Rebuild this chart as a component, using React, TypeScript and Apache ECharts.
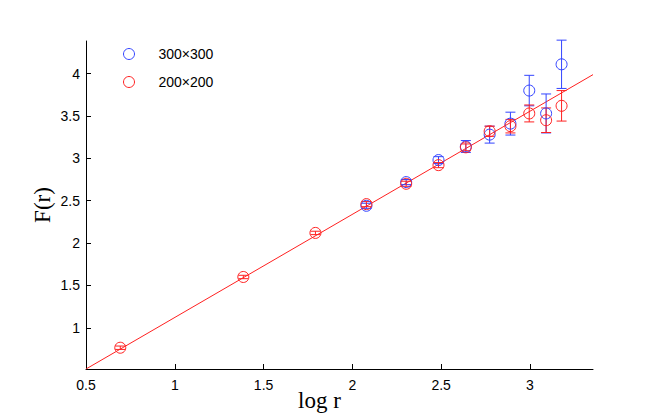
import React, { useEffect, useRef } from "react";
import * as echarts from "echarts";

// ---- data ----
const xTicks = [0.5, 1, 1.5, 2, 2.5, 3];
const yTicks = [1, 1.5, 2, 2.5, 3, 3.5, 4];

const redName = "200×200";
const blueName = "300×300";

const redX = [0.693, 1.386, 1.792, 2.079, 2.303, 2.485, 2.639, 2.773, 2.89, 2.996, 3.091, 3.178];
const redY = [0.765, 1.6, 2.12, 2.46, 2.7, 2.92, 3.13, 3.32, 3.38, 3.53, 3.45, 3.62];
const redErr = [0.02, 0.02, 0.02, 0.03, 0.03, 0.03, 0.04, 0.06, 0.08, 0.1, 0.145, 0.18];

const blueX = [2.079, 2.303, 2.485, 2.639, 2.773, 2.89, 2.996, 3.091, 3.178];
const blueY = [2.44, 2.72, 2.98, 3.14, 3.28, 3.41, 3.8, 3.53, 4.11];
const blueErr = [0.03, 0.03, 0.04, 0.07, 0.1, 0.135, 0.18, 0.23, 0.285];

const fitX = [0.5, 3.355];
const fitY = [0.514, 3.988];

const xMin = 0.5;
const xMax = 3.355;
const yMin = 0.514;
const yMax = 4.385;

const BLUE = "#3344ff";
const RED = "#ff2020";

function errData(xs: number[], ys: number[], es: number[]) {
  return xs.map((x, i) => [x, ys[i] - es[i], ys[i] + es[i]]);
}

function errSeries(name: string, color: string, data: number[][]) {
  return {
    type: "custom",
    name,
    data,
    silent: true,
    renderItem: (params: any, api: any) => {
      const x = api.value(0);
      const lo = api.value(1);
      const hi = api.value(2);
      const pTop = api.coord([x, hi]);
      const pBot = api.coord([x, lo]);
      const w = 5;
      const st = { stroke: color, lineWidth: 1 };
      return {
        type: "group",
        children: [
          { type: "line", shape: { x1: pTop[0], y1: pTop[1], x2: pBot[0], y2: pBot[1] }, style: st },
          { type: "line", shape: { x1: pTop[0] - w, y1: pTop[1], x2: pTop[0] + w, y2: pTop[1] }, style: st },
          { type: "line", shape: { x1: pBot[0] - w, y1: pBot[1], x2: pBot[0] + w, y2: pBot[1] }, style: st },
        ],
      };
    },
    z: 3,
  };
}

function scatterSeries(name: string, color: string, xs: number[], ys: number[], z: number) {
  return {
    type: "scatter",
    name,
    data: xs.map((x, i) => [x, ys[i]]),
    symbol: "circle",
    symbolSize: 11,
    itemStyle: { color: "rgba(0,0,0,0)", borderColor: color, borderWidth: 1, opacity: 1 },
    z,
  };
}

export default function App() {
  const ref = useRef<HTMLDivElement>(null);
  useEffect(() => {
    if (!ref.current) return;
    const chart = echarts.init(ref.current, null, { renderer: "svg" });
    const axisFont = "'Liberation Sans', Arial, Helvetica, sans-serif";
    const nameFont = "'Liberation Serif', 'DejaVu Serif', serif";
    chart.setOption({
      animation: false,
      backgroundColor: "#ffffff",
      grid: { left: 86, top: 41, width: 507, height: 328, containLabel: false },
      legend: {
        orient: "vertical",
        left: 123,
        top: 47,
        padding: 0,
        itemWidth: 11,
        itemHeight: 11,
        itemGap: 14,
        data: [
          {
            name: blueName,
            icon: "circle",
            itemStyle: { color: "rgba(0,0,0,0)", borderColor: BLUE, borderWidth: 1 },
          },
          {
            name: redName,
            icon: "circle",
            itemStyle: { color: "rgba(0,0,0,0)", borderColor: RED, borderWidth: 1 },
          },
        ],
        textStyle: { fontFamily: axisFont, fontSize: 14, color: "#000", padding: [0, 0, 0, 19] },
      },
      xAxis: {
        type: "value",
        min: xMin,
        max: xMax,
        name: "log r",
        nameLocation: "middle",
        nameGap: 20,
        nameMoveOverlap: false,
        nameTextStyle: { fontFamily: nameFont, fontSize: 23, color: "#000", padding: [0, 40, 0, 0] },
        axisLine: { show: true, onZero: false, lineStyle: { color: "#000", width: 1 } },
        axisTick: { show: true, inside: true, length: 5, lineStyle: { color: "#000" }, customValues: xTicks },
        axisLabel: { customValues: xTicks, fontFamily: axisFont, fontSize: 14, color: "#000", margin: 9 },
        splitLine: { show: false },
      },
      yAxis: {
        type: "value",
        min: yMin,
        max: yMax,
        name: "F(r)",
        nameLocation: "middle",
        nameGap: 32,
        nameRotate: 90,
        nameMoveOverlap: false,
        nameTextStyle: { fontFamily: nameFont, fontSize: 23, color: "#000" },
        axisLine: { show: true, onZero: false, lineStyle: { color: "#000", width: 1 } },
        axisTick: { show: true, inside: true, length: 5, lineStyle: { color: "#000" }, customValues: yTicks },
        axisLabel: { customValues: yTicks, fontFamily: axisFont, fontSize: 14, color: "#000", margin: 6 },
        splitLine: { show: false },
      },
      series: [
        {
          type: "line",
          name: "fit",
          data: fitX.map((x, i) => [x, fitY[i]]),
          symbol: "none",
          lineStyle: { color: RED, width: 1 },
          silent: true,
          z: 2,
        },
        errSeries("err300", BLUE, errData(blueX, blueY, blueErr)),
        scatterSeries(blueName, BLUE, blueX, blueY, 4),
        errSeries("err200", RED, errData(redX, redY, redErr)),
        scatterSeries(redName, RED, redX, redY, 5),
      ],
    });
    return () => chart.dispose();
  }, []);
  return <div ref={ref} style={{ position: "fixed", left: 0, top: 0, width: 654, height: 418 }} />;
}
